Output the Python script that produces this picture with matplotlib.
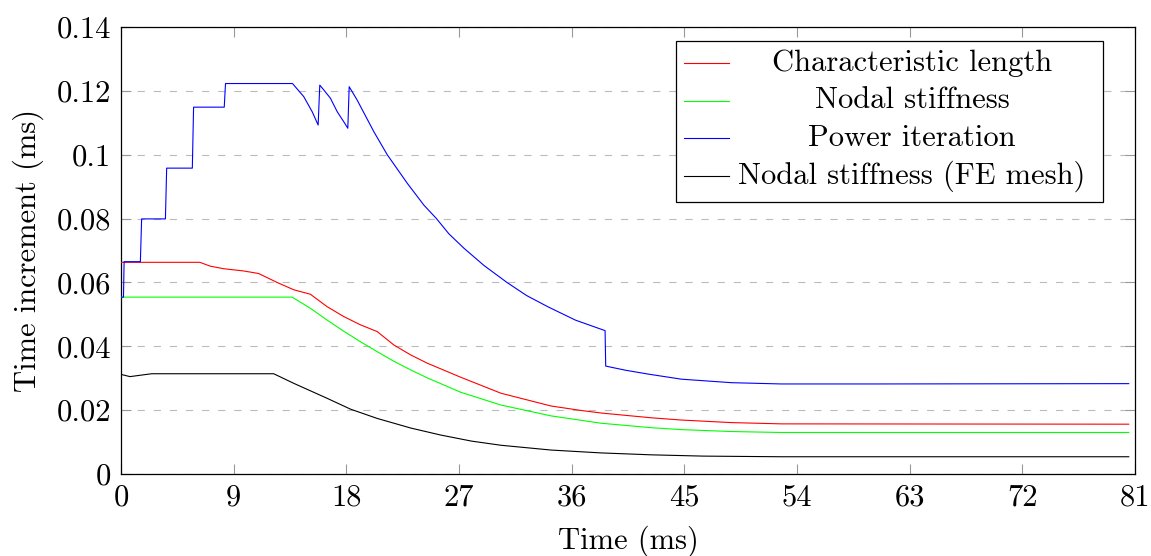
import matplotlib
matplotlib.use("Agg")
import matplotlib.pyplot as plt
from matplotlib.lines import Line2D
from matplotlib.patches import Rectangle
from matplotlib.ticker import FuncFormatter

plt.rcParams['font.family'] = ['cmr10', 'DejaVu Serif']
plt.rcParams['mathtext.fontset'] = 'cm'
plt.rcParams['axes.formatter.use_mathtext'] = True

# ---- data (time in ms, increment in ms) ----
t_char = [0, 6.3, 7.13, 8.19, 9.79, 10.99, 12.47, 13.8, 15.13, 16.47, 17.8, 19.14, 20.47,
          21.8, 23.14, 24.47, 27.14, 30.35, 34.35, 36.75, 38.35, 42.36, 44.76, 48.76,
          52.76, 80.5]
dt_char = [0.0663, 0.0663, 0.0651, 0.0643, 0.0636, 0.0628, 0.0600, 0.0577, 0.0563, 0.0524,
           0.0493, 0.0467, 0.0446, 0.0404, 0.0373, 0.0347, 0.0303, 0.0253, 0.0213, 0.0199,
           0.0191, 0.0176, 0.0169, 0.0161, 0.0157, 0.0156]

t_nodal = [0, 13.67, 15.13, 16.47, 17.8, 19.14, 20.47, 21.8, 23.14, 24.47, 27.14, 30.35,
           34.35, 38.35, 42.36, 44.76, 48.76, 52.76, 80.5]
dt_nodal = [0.0554, 0.0554, 0.0519, 0.0482, 0.0447, 0.0414, 0.0383, 0.0353, 0.0326, 0.0301,
            0.0256, 0.0216, 0.0182, 0.0159, 0.0145, 0.0139, 0.0133, 0.0130, 0.0130]

t_power = [0, 0.2, 0.25, 1.55, 1.65, 3.55, 3.65, 5.7, 5.8, 8.25, 8.35, 13.7, 14.6, 15.27,
           15.75, 15.88, 16.2, 16.73, 17.27, 17.8, 18.12, 18.23, 18.87, 20.2, 21.27, 22.88,
           24.2, 25.2, 26.2, 27.4, 29.0, 30.83, 32.4, 34.09, 36.3, 38.67, 38.72, 40.3, 42.1,
           44.76, 48.76, 52.76, 60.0, 80.5]
dt_power = [0.0554, 0.0554, 0.0665, 0.0665, 0.0799, 0.0799, 0.0958, 0.0958, 0.1149, 0.1149,
            0.1223, 0.1223, 0.1182, 0.1135, 0.1093, 0.1218, 0.1203, 0.1177, 0.1135, 0.1103,
            0.1083, 0.1213, 0.1171, 0.1072, 0.1000, 0.0910, 0.0842, 0.0800, 0.0752, 0.0707,
            0.0653, 0.0600, 0.0559, 0.0524, 0.0482, 0.0449, 0.0338, 0.0325, 0.0313, 0.0297,
            0.0286, 0.0282, 0.0282, 0.0283]

t_fe = [0, 0.72, 2.45, 12.2, 13.8, 16.47, 18.34, 20.47, 22.34, 23.14, 25.54, 28.0, 30.35,
        34.35, 38.35, 42.36, 46.5, 52.76, 80.5]
dt_fe = [0.0312, 0.0305, 0.0314, 0.0314, 0.0284, 0.0237, 0.0203, 0.0174, 0.0153, 0.0144,
         0.0122, 0.0103, 0.0090, 0.0075, 0.0066, 0.0060, 0.0056, 0.0054, 0.0054]

labels = ["Characteristic length", "Nodal stiffness", "Power iteration",
          "Nodal stiffness (FE mesh)"]
colors = ["#ff0000", "#00ff00", "#0000ff", "#000000"]

x_ticks = [0, 9, 18, 27, 36, 45, 54, 63, 72, 81]
y_ticks = [0, 0.02, 0.04, 0.06, 0.08, 0.1, 0.12, 0.14]

FS = 22

fig = plt.figure(figsize=(11.51, 5.56), dpi=100)
ax = fig.add_axes([0.1051, 0.1475, 0.8810, 0.8039])

series = [(t_char, dt_char), (t_nodal, dt_nodal), (t_power, dt_power), (t_fe, dt_fe)]
for (t, d), c, lab in zip(series, colors, labels):
    ax.plot(t, d, color=c, lw=0.8, label=lab, zorder=3)

ax.set_xlim(0, 81)
ax.set_ylim(0, 0.14)
ax.set_xticks(x_ticks)
ax.set_yticks(y_ticks)
ax.yaxis.set_major_formatter(FuncFormatter(lambda v, p: "%g" % round(v, 4)))
ax.xaxis.set_major_formatter(FuncFormatter(lambda v, p: "%g" % v))
ax.tick_params(direction='in', length=7, width=0.8, color='#999999',
               top=True, right=True, labelsize=FS, pad=7)
ax.yaxis.grid(True, color='#bbbbbb', lw=0.8, linestyle=(0, (6.5, 8)))
ax.set_axisbelow(True)
for s in ax.spines.values():
    s.set_linewidth(0.9)
    s.set_color('black')

ax.set_xlabel("Time (ms)", fontsize=FS, labelpad=10)
ax.set_ylabel("Time increment (ms)", fontsize=FS, labelpad=9)

# legend drawn pgfplots-style (centered text entries)
lx0, lx1, ly0, ly1 = 0.547, 0.9684, 0.609, 0.9694
ax.add_patch(Rectangle((lx0, ly0), lx1 - lx0, ly1 - ly0, transform=ax.transAxes,
                       facecolor='white', edgecolor='black', lw=0.9, zorder=5))
row_y = [0.9195, 0.8352, 0.7517, 0.6658]
for yy, c, lab in zip(row_y, colors, labels):
    ax.add_line(Line2D([0.5552, 0.5996], [yy, yy], transform=ax.transAxes,
                       color=c, lw=0.8, zorder=6))
    ax.text(0.7801, yy, lab, transform=ax.transAxes, ha='center', va='center',
            fontsize=FS, zorder=6)

fig.savefig("out.png", dpi=100)
